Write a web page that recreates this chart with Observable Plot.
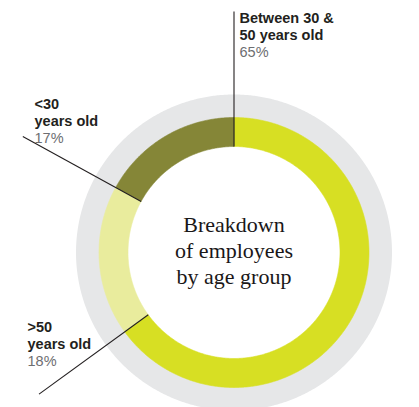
<!DOCTYPE html>
<html><head><meta charset="utf-8">
<script src="https://cdn.jsdelivr.net/npm/d3@7"></script>
<script src="https://cdn.jsdelivr.net/npm/@observablehq/plot@0.6"></script>
<style>html,body{margin:0;padding:0;background:#fff;}</style>
</head><body><div id="chart"></div>
<script>
// ---- data ----
const groups = ["Between 30 & 50 years old", ">50 years old", "<30 years old"];
const shares = [65, 18, 17];
const labelNames = ["Between 30 &\n50 years old", ">50\nyears old", "<30\nyears old"];
const shareLabels = ["65%", "18%", "17%"];
const title = "Breakdown\nof employees\nby age group";

// ---- layout ----
const W = 419, H = 407, CX = 233.5, CY = 252;
const rGrey = 158, rOut = 135, rIn = 106, rLead = 241;
const colors = ["#d7df23", "#e9ec9d", "#858637"];
const labelPos = [
  {x: 5.5, nameY: -213, pctY: -196},
  {x: -206.5, nameY: 96, pctY: 113},
  {x: -199.5, nameY: -127, pctY: -110}
];

const total = d3.sum(shares);
const cum = Array.from(d3.cumsum(shares));
const slices = shares.map((v, i) => ({
  group: groups[i],
  a0: (cum[i] - v) / total * 2 * Math.PI,
  a1: cum[i] / total * 2 * Math.PI
}));
const pt = (r, a) => ({x: r * Math.sin(a), y: -r * Math.cos(a)});
function ring(a0, a1, r0, r1, key) {
  const n = Math.max(2, Math.ceil((a1 - a0) / (Math.PI / 360)));
  const out = [];
  for (let k = 0; k <= n; k++) out.push({...pt(r1, a0 + (a1 - a0) * k / n), key});
  for (let k = n; k >= 0; k--) out.push({...pt(r0, a0 + (a1 - a0) * k / n), key});
  return out;
}
const greyPts = ring(0, 2 * Math.PI, rOut - 1, rGrey, "grey");
const ringPts = slices.flatMap(s => ring(s.a0, s.a1, rIn, rOut, s.group));
const leaders = slices.map(s => ({p0: pt(rIn, s.a0), p1: pt(rLead, s.a0)}));

const chart = Plot.plot({
  width: W, height: H,
  margin: 0,
  axis: null,
  style: {background: "#fff"},
  x: {domain: [-CX, W - CX], range: [0, W]},
  y: {domain: [-CY, H - CY], range: [0, H]},
  color: {domain: groups, range: colors},
  marks: [
    Plot.line(greyPts, {x: "x", y: "y", fill: "#e6e7e8", stroke: "none"}),
    Plot.line(ringPts, {x: "x", y: "y", z: "key", fill: "key", stroke: "key", strokeWidth: 0.6}),
    Plot.link(leaders, {x1: d => d.p0.x, y1: d => d.p0.y, x2: d => d.p1.x, y2: d => d.p1.y, stroke: "#231f20", strokeWidth: 1.1}),
    Plot.text(slices, {
      x: (d, i) => labelPos[i].x, y: (d, i) => labelPos[i].nameY,
      text: (d, i) => labelNames[i],
      textAnchor: "start", lineAnchor: "bottom", lineHeight: 1.14,
      fontSize: 14.5, fontWeight: "bold", fontFamily: "Liberation Sans, Arial, sans-serif", fill: "#231f20"
    }),
    Plot.text(slices, {
      x: (d, i) => labelPos[i].x, y: (d, i) => labelPos[i].pctY,
      text: (d, i) => shareLabels[i],
      textAnchor: "start", lineAnchor: "bottom",
      fontSize: 14.5, fontFamily: "Liberation Sans, Arial, sans-serif", fill: "#6d6e71"
    }),
    Plot.text([title], {
      x: 0, y: 0, dy: 31, text: d => d,
      lineAnchor: "bottom", lineHeight: 1.16,
      fontSize: 22, fontFamily: "Liberation Serif, serif", fill: "#1a1718"
    })
  ]
});
document.getElementById("chart").appendChild(chart);
</script>
</body></html>
